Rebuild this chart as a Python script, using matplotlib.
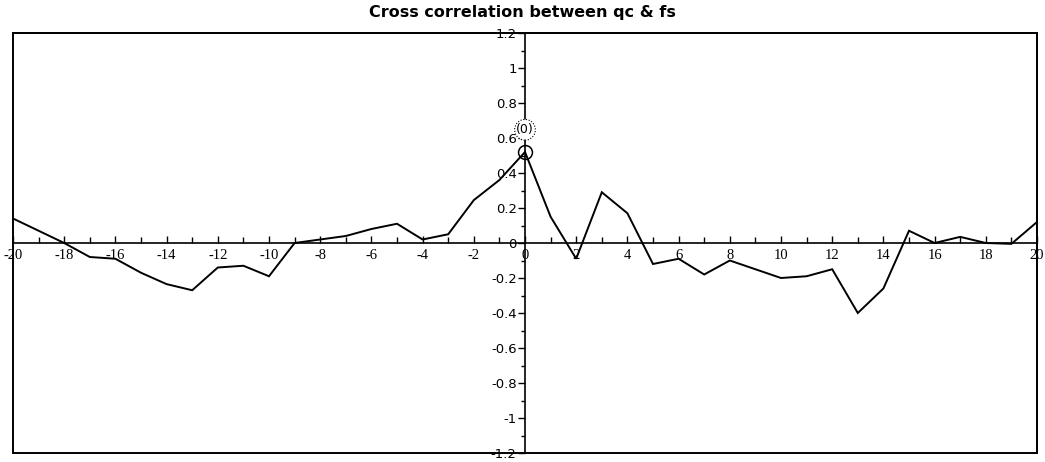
import matplotlib
matplotlib.use("Agg")
import matplotlib.pyplot as plt
from matplotlib.patches import Rectangle
from matplotlib.ticker import MultipleLocator, FuncFormatter

# Cross-correlation coefficients for lags -20 .. 20
lags = list(range(-20, 21))
ccf = [0.14, 0.07, 0.00, -0.08, -0.09, -0.17, -0.235, -0.27, -0.14, -0.13,
       -0.19, 0.00, 0.02, 0.04, 0.08, 0.11, 0.02, 0.05, 0.245, 0.36,
       0.52, 0.15, -0.09, 0.29, 0.17, -0.12, -0.09, -0.18, -0.10, -0.15,
       -0.20, -0.19, -0.15, -0.40, -0.26, 0.07, 0.00, 0.035, 0.00, -0.005,
       0.12]
peak_lag = 0
title = "Cross correlation between qc & fs"

fig = plt.figure(figsize=(10.45, 4.62), dpi=100)
ax = fig.add_axes([13 / 1045, 9 / 462, 1024 / 1045, 420 / 462])

ax.plot(lags, ccf, color="black", lw=1.4, solid_joinstyle="miter")

# highlighted peak at lag 0
pk = ccf[lags.index(peak_lag)]
ax.plot([peak_lag], [pk], marker="o", ms=10, mfc="none", mec="black", mew=1.1)
ax.annotate("(0)", (peak_lag, pk), xytext=(0, 16), textcoords="offset points",
            ha="center", va="center", fontsize=9, family="DejaVu Sans",
            bbox=dict(boxstyle="circle,pad=0.12", fc="white", ec="black",
                      ls=(0, (1, 1.5)), lw=0.8))

ax.set_xlim(-20, 20)
ax.set_ylim(-1.2, 1.2)

# axes crossing at the origin, with an outer frame
for s in ("left", "bottom"):
    ax.spines[s].set_position("zero")
    ax.spines[s].set_linewidth(1.2)
for s in ("top", "right"):
    ax.spines[s].set_linewidth(1.2)
ax.add_patch(Rectangle((0, 0), 1, 1, transform=ax.transAxes, fill=False,
                       ec="black", lw=1.4, clip_on=False, zorder=5))

ax.xaxis.set_major_locator(MultipleLocator(2))
ax.xaxis.set_minor_locator(MultipleLocator(1))
ax.yaxis.set_major_locator(MultipleLocator(0.2))
ax.yaxis.set_minor_locator(MultipleLocator(0.1))

def fmt(v, pos):
    s = f"{v:.1f}".rstrip("0").rstrip(".")
    return "0" if s in ("-0", "0") else s

ax.xaxis.set_major_formatter(FuncFormatter(fmt))
ax.yaxis.set_major_formatter(FuncFormatter(fmt))

ax.tick_params(axis="x", which="major", direction="in", length=5, width=1,
               pad=4, labelsize=10.5)
ax.tick_params(axis="x", which="minor", direction="in", length=4, width=1)
ax.tick_params(axis="y", which="major", direction="out", length=5, width=1,
               pad=1, labelsize=9.5)
ax.tick_params(axis="y", which="minor", direction="out", length=3, width=1)
for lab in ax.get_xticklabels():
    lab.set_family("Liberation Serif")

fig.text(522 / 1045, 1 - 13 / 462, title, ha="center", va="center",
         fontsize=11.5, fontweight="bold", family="DejaVu Sans")

fig.savefig("out.png", dpi=100, facecolor="white")
